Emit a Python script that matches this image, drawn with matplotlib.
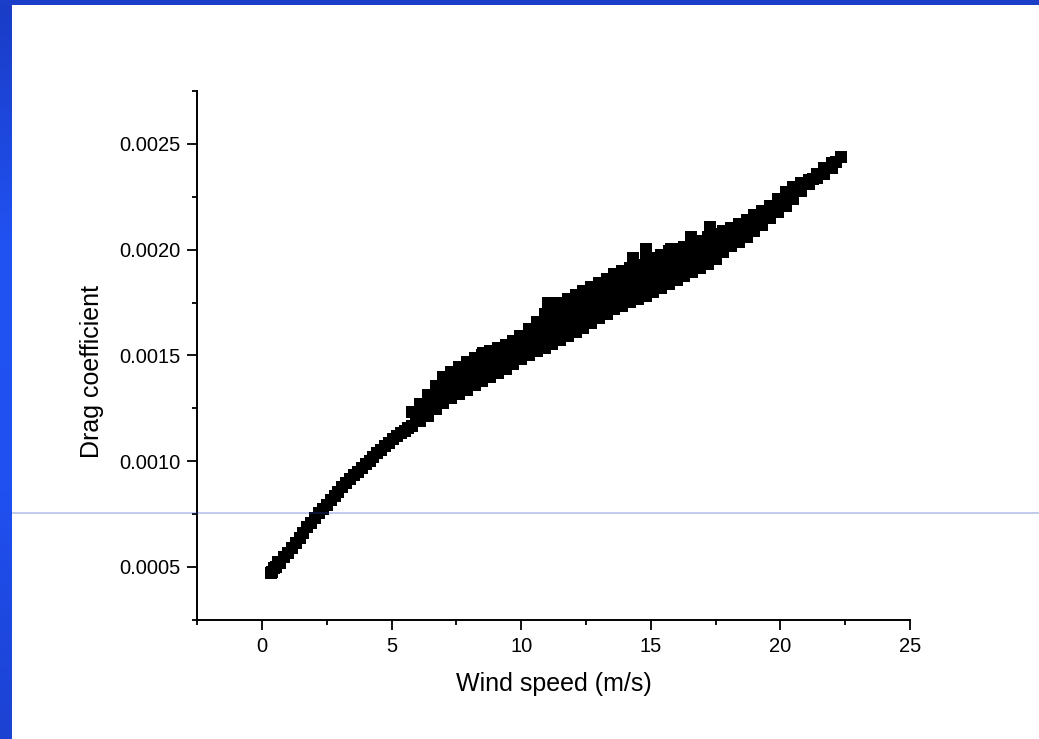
import numpy as np
import matplotlib.pyplot as plt
from matplotlib.colors import LinearSegmentedColormap
from matplotlib.lines import Line2D
from matplotlib.patches import Rectangle
from matplotlib.ticker import MultipleLocator, FormatStrFormatter

plt.rcParams['font.family'] = ['Liberation Sans', 'DejaVu Sans']

# wind speed (m/s) / drag coefficient
# lower edge of the cloud (single thin row below ~5.5 m/s)
wind_low = [0.4, 0.7, 1.0, 1.3, 1.6, 1.9, 2.2, 2.5, 2.8, 3.1, 3.4, 3.7, 4.0, 4.3,
            4.6, 4.9, 5.2, 5.5, 5.8, 6.1, 6.4, 6.7, 7.0, 7.3, 7.6, 7.9, 8.2, 8.5,
            8.8, 9.1, 9.4, 9.7, 10.0, 10.3, 10.6, 10.9, 11.2, 11.5, 11.8, 12.1,
            12.4, 12.7, 13.0, 13.3, 13.6, 13.9, 14.2, 14.5, 14.8, 15.1, 15.4,
            15.7, 16.0, 16.3, 16.6, 16.9, 17.2, 17.5, 17.8, 18.1, 18.4, 18.7,
            19.0, 19.3, 19.6, 19.9, 20.2, 20.5, 20.8, 21.1, 21.4, 21.7, 22.0]
cd_low = [4.74e-4, 5.21e-4, 5.68e-4, 6.15e-4, 6.63e-4, 7.10e-4, 7.53e-4, 7.95e-4,
          8.36e-4, 8.76e-4, 9.16e-4, 9.51e-4, 9.86e-4, 1.020e-3, 1.054e-3,
          1.087e-3, 1.120e-3, 1.145e-3, 1.165e-3, 1.190e-3, 1.216e-3, 1.246e-3,
          1.276e-3, 1.297e-3, 1.317e-3, 1.338e-3, 1.360e-3, 1.381e-3, 1.400e-3,
          1.418e-3, 1.438e-3, 1.461e-3, 1.482e-3, 1.500e-3, 1.519e-3, 1.537e-3,
          1.556e-3, 1.575e-3, 1.594e-3, 1.612e-3, 1.631e-3, 1.653e-3, 1.675e-3,
          1.696e-3, 1.718e-3, 1.736e-3, 1.752e-3, 1.767e-3, 1.783e-3, 1.802e-3,
          1.821e-3, 1.840e-3, 1.859e-3, 1.877e-3, 1.895e-3, 1.914e-3, 1.932e-3,
          1.958e-3, 1.988e-3, 2.016e-3, 2.038e-3, 2.060e-3, 2.088e-3, 2.119e-3,
          2.150e-3, 2.180e-3, 2.209e-3, 2.241e-3, 2.276e-3, 2.311e-3, 2.337e-3,
          2.360e-3, 2.385e-3]

# points in between along the thin low-wind part
wind_thin = [0.55, 0.85, 1.15, 1.45, 1.75, 2.05, 2.35, 2.65, 2.95, 3.25, 3.55,
             3.85, 4.15, 4.45, 4.75, 5.05, 5.35, 5.65, 5.95]
cd_thin = [4.98e-4, 5.45e-4, 5.92e-4, 6.39e-4, 6.87e-4, 7.32e-4, 7.74e-4, 8.16e-4,
           8.56e-4, 8.96e-4, 9.34e-4, 9.69e-4, 1.003e-3, 1.037e-3, 1.071e-3,
           1.104e-3, 1.133e-3, 1.155e-3, 1.215e-3]

# upper edge of the cloud
wind_up = [5.8, 6.1, 6.4, 6.7, 7.0, 7.3, 7.6, 7.9, 8.2, 8.5, 8.8, 9.1, 9.4, 9.7,
           10.0, 10.3, 10.6, 10.9, 11.2, 11.5, 11.8, 12.1, 12.4, 12.7, 13.0, 13.3,
           13.6, 13.9, 14.2, 14.5, 14.8, 15.1, 15.4, 15.7, 16.0, 16.3, 16.6, 16.9,
           17.2, 17.5, 17.8, 18.1, 18.4, 18.7, 19.0, 19.3, 19.6, 19.9, 20.2, 20.5,
           20.8, 21.1, 21.4, 21.7, 22.0]
cd_up = [1.233e-3, 1.272e-3, 1.314e-3, 1.355e-3, 1.396e-3, 1.421e-3, 1.447e-3,
         1.469e-3, 1.486e-3, 1.503e-3, 1.519e-3, 1.534e-3, 1.551e-3, 1.568e-3,
         1.589e-3, 1.624e-3, 1.660e-3, 1.695e-3, 1.726e-3, 1.746e-3, 1.766e-3,
         1.786e-3, 1.806e-3, 1.826e-3, 1.845e-3, 1.864e-3, 1.884e-3, 1.900e-3,
         1.915e-3, 1.930e-3, 1.945e-3, 1.960e-3, 1.976e-3, 1.992e-3, 2.002e-3,
         2.011e-3, 2.023e-3, 2.042e-3, 2.060e-3, 2.076e-3, 2.090e-3, 2.105e-3,
         2.124e-3, 2.142e-3, 2.163e-3, 2.185e-3, 2.207e-3, 2.240e-3, 2.273e-3,
         2.299e-3, 2.315e-3, 2.332e-3, 2.358e-3, 2.386e-3, 2.412e-3]

# inner part of the cloud: three rows between the edges
wind_mid = [6.25, 6.55, 6.85, 7.15, 7.45, 7.75, 8.05, 8.35, 8.65, 8.95, 9.25, 9.55,
            9.85, 10.15, 10.45, 10.75, 11.05, 11.35, 11.65, 11.95, 12.25, 12.55,
            12.85, 13.15, 13.45, 13.75, 14.05, 14.35, 14.65, 14.95, 15.25, 15.55,
            15.85, 16.15, 16.45, 16.75, 17.05, 17.35, 17.65, 17.95, 18.25, 18.55,
            18.85, 19.15, 19.45, 19.75]
cd_mid1 = [1.271e-3, 1.309e-3, 1.347e-3, 1.379e-3, 1.402e-3, 1.426e-3, 1.446e-3,
           1.464e-3, 1.481e-3, 1.498e-3, 1.514e-3, 1.533e-3, 1.552e-3, 1.578e-3,
           1.609e-3, 1.641e-3, 1.670e-3, 1.694e-3, 1.713e-3, 1.733e-3, 1.753e-3,
           1.773e-3, 1.793e-3, 1.813e-3, 1.832e-3, 1.851e-3, 1.867e-3, 1.882e-3,
           1.897e-3, 1.913e-3, 1.929e-3, 1.946e-3, 1.960e-3, 1.972e-3, 1.984e-3,
           2.001e-3, 2.019e-3, 2.037e-3, 2.056e-3, 2.074e-3, 2.093e-3, 2.112e-3,
           2.133e-3, 2.157e-3, 2.181e-3, 2.209e-3]
cd_mid2 = [1.248e-3, 1.283e-3, 1.319e-3, 1.348e-3, 1.371e-3, 1.393e-3, 1.414e-3,
           1.433e-3, 1.451e-3, 1.468e-3, 1.486e-3, 1.505e-3, 1.526e-3, 1.549e-3,
           1.576e-3, 1.603e-3, 1.629e-3, 1.651e-3, 1.671e-3, 1.690e-3, 1.709e-3,
           1.729e-3, 1.750e-3, 1.771e-3, 1.791e-3, 1.810e-3, 1.826e-3, 1.842e-3,
           1.857e-3, 1.873e-3, 1.890e-3, 1.908e-3, 1.924e-3, 1.938e-3, 1.952e-3,
           1.969e-3, 1.987e-3, 2.007e-3, 2.028e-3, 2.050e-3, 2.071e-3, 2.091e-3,
           2.114e-3, 2.139e-3, 2.166e-3, 2.195e-3]
cd_mid3 = [1.226e-3, 1.257e-3, 1.290e-3, 1.318e-3, 1.339e-3, 1.361e-3, 1.381e-3,
           1.402e-3, 1.421e-3, 1.439e-3, 1.457e-3, 1.478e-3, 1.499e-3, 1.520e-3,
           1.543e-3, 1.566e-3, 1.588e-3, 1.609e-3, 1.628e-3, 1.646e-3, 1.666e-3,
           1.686e-3, 1.707e-3, 1.728e-3, 1.749e-3, 1.768e-3, 1.785e-3, 1.801e-3,
           1.816e-3, 1.833e-3, 1.851e-3, 1.869e-3, 1.887e-3, 1.903e-3, 1.919e-3,
           1.937e-3, 1.955e-3, 1.976e-3, 2.001e-3, 2.026e-3, 2.049e-3, 2.070e-3,
           2.094e-3, 2.122e-3, 2.150e-3, 2.180e-3]

# narrow high-wind tail
wind_tail = [20.05, 20.35, 20.65, 20.95, 21.25, 21.55, 21.85, 22.15]
cd_tail = [2.226e-3, 2.256e-3, 2.283e-3, 2.309e-3, 2.335e-3, 2.360e-3, 2.386e-3,
           2.415e-3]

# scattered points sticking out of the cloud, plus both ends
wind_out = [0.35, 0.45, 0.6, 7.91, 8.53, 9.95, 11.03, 11.5, 14.31, 14.81, 15.78,
            16.55, 17.28, 22.34]
cd_out = [4.72e-4, 4.95e-4, 5.25e-4, 1.465e-3, 1.512e-3, 1.592e-3, 1.748e-3,
          1.743e-3, 1.961e-3, 2.004e-3, 2.004e-3, 2.060e-3, 2.107e-3, 2.439e-3]

fig = plt.figure(figsize=(10.39, 7.39), dpi=100)
fig.patch.set_facecolor('white')

# slide frame: blue band on the left and on top
bar = fig.add_axes([0, 0, 12 / 1039, 1])
grad = LinearSegmentedColormap.from_list('bar', ['#1a3cc6', '#2152f2', '#2050f0', '#1c42d2'])
bar.imshow(np.linspace(0, 1, 256).reshape(-1, 1), aspect='auto', cmap=grad)
bar.axis('off')
fig.add_artist(Rectangle((0, 1 - 5 / 739), 1, 5 / 739, transform=fig.transFigure,
                         color='#1a3ec8', lw=0))

ax = fig.add_axes([0.1898, 0.1612, 0.6860, 0.7155])
series = [(wind_low, cd_low), (wind_thin, cd_thin), (wind_up, cd_up),
          (wind_mid, cd_mid1), (wind_mid, cd_mid2), (wind_mid, cd_mid3),
          (wind_tail, cd_tail), (wind_out, cd_out)]
for xs, ys in series:
    ax.scatter(xs, ys, marker='s', s=68, c='black', linewidths=0)

ax.set_xlim(-2.5, 25)
ax.set_ylim(0.00025, 0.00275)
ax.xaxis.set_major_locator(MultipleLocator(5))
ax.xaxis.set_minor_locator(MultipleLocator(2.5))
ax.yaxis.set_major_locator(MultipleLocator(0.0005))
ax.yaxis.set_minor_locator(MultipleLocator(0.00025))
ax.yaxis.set_major_formatter(FormatStrFormatter('%.4f'))
ax.set_xticks([0, 5, 10, 15, 20, 25])

for side in ['top', 'right']:
    ax.spines[side].set_visible(False)
for side in ['left', 'bottom']:
    ax.spines[side].set_linewidth(1.4)
ax.tick_params(which='major', direction='out', length=7, width=1.3, labelsize=14.5, pad=5)
ax.tick_params(which='minor', direction='out', length=3.8, width=1.3)

ax.set_xlabel('Wind speed (m/s)', fontsize=18)
ax.set_ylabel('Drag coefficient', fontsize=18)
ax.xaxis.set_label_coords(0.5, -0.098)
ax.yaxis.set_label_coords(-0.131, 0.469)

# thin guide line running across the slide
fig.add_artist(Line2D([12 / 1039, 1], [1 - 513 / 739] * 2, transform=fig.transFigure,
                      color='#2a48c0', alpha=0.3, lw=1.3, zorder=10))

fig.savefig('out.png', dpi=100)
